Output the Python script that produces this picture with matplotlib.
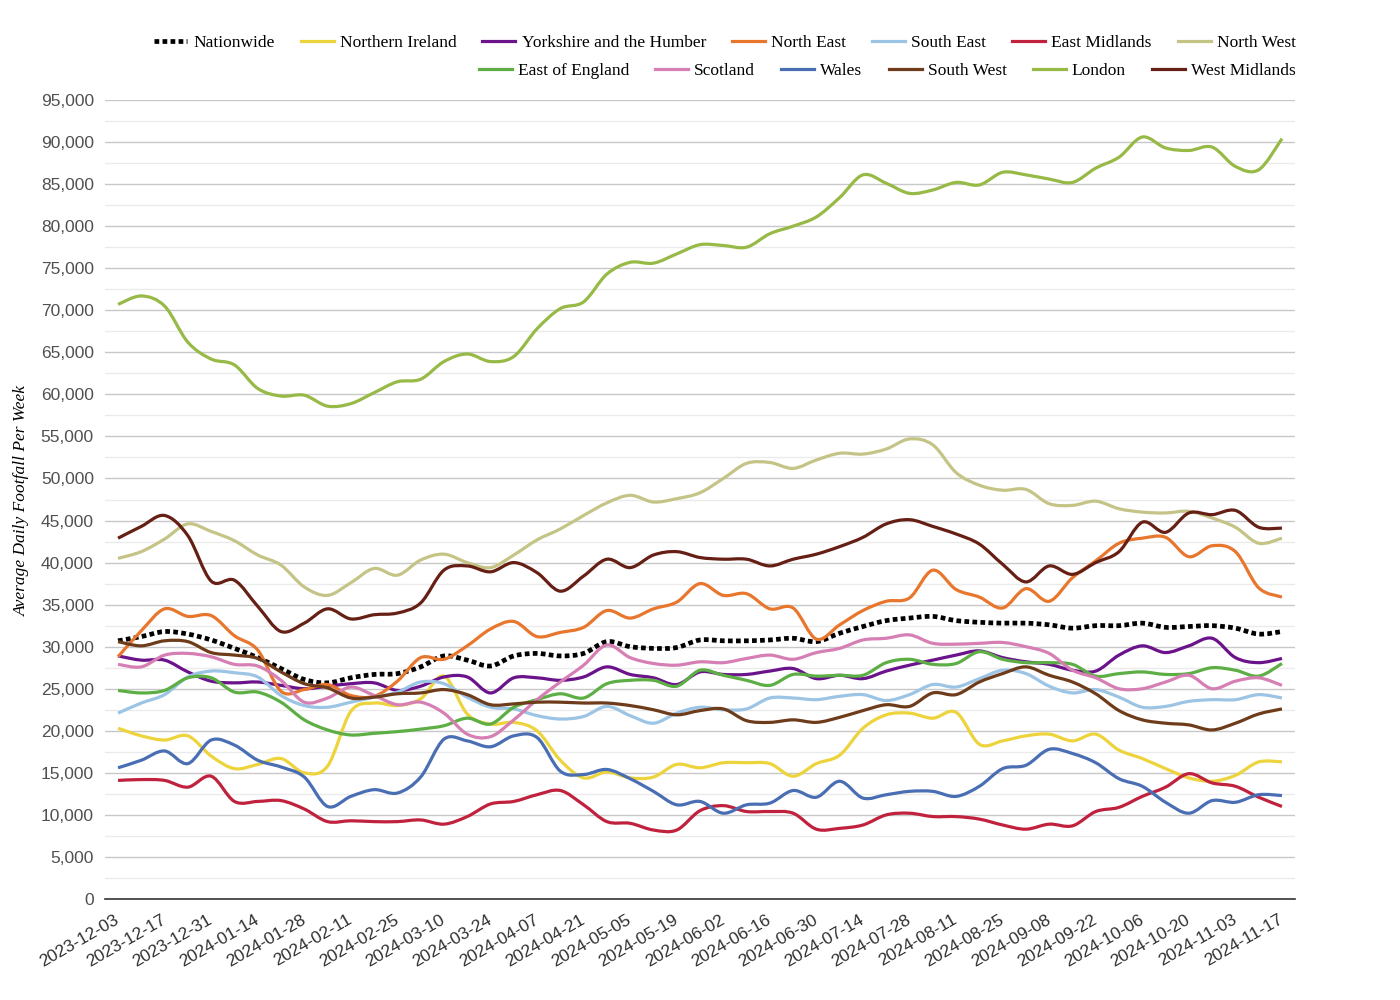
import matplotlib
matplotlib.use('Agg')
import matplotlib.pyplot as plt
import numpy as np
import pandas as pd
from matplotlib.path import Path
from matplotlib.patches import PathPatch
from matplotlib.lines import Line2D
from matplotlib.ticker import MultipleLocator, FuncFormatter

# weekly dates (week commencing)
weeks = pd.date_range('2023-12-03', '2024-11-17', freq='7D').strftime('%Y-%m-%d').tolist()

# average daily footfall per week, in thousands
nationwide = [30.7, 31.2, 31.8, 31.5, 30.8, 29.8, 28.7, 27.4, 26.1, 25.7, 26.3, 26.7, 26.8, 27.6, 28.9, 28.4, 27.7,
              28.9, 29.2, 28.9, 29.2, 30.6, 30.0, 29.8, 29.9, 30.8, 30.7, 30.7, 30.8, 31.0, 30.6, 31.6, 32.4, 33.1,
              33.4, 33.6, 33.1, 32.9, 32.8, 32.8, 32.6, 32.2, 32.5, 32.5, 32.8, 32.3, 32.4, 32.5, 32.2, 31.5, 31.8]
northern_ireland = [20.3, 19.4, 18.9, 19.4, 17.0, 15.5, 16.0, 16.7, 15.0, 15.8, 22.3, 23.3, 23.0, 23.8, 26.5, 22.0,
                    20.8, 21.0, 20.0, 16.5, 14.4, 15.1, 14.4, 14.5, 16.0, 15.6, 16.2, 16.2, 16.1, 14.6, 16.1, 17.1,
                    20.3, 21.9, 22.1, 21.5, 22.2, 18.4, 18.8, 19.4, 19.6, 18.8, 19.6, 17.7, 16.7, 15.5, 14.4, 14.0,
                    14.7, 16.3, 16.3]
yorkshire = [28.9, 28.4, 28.4, 27.0, 25.9, 25.7, 25.8, 25.4, 25.0, 25.3, 25.6, 25.7, 24.8, 25.3, 26.4, 26.4, 24.5,
             26.3, 26.3, 26.0, 26.4, 27.6, 26.7, 26.3, 25.5, 27.0, 26.7, 26.7, 27.1, 27.4, 26.2, 26.6, 26.2, 27.1,
             27.8, 28.4, 29.0, 29.5, 28.7, 28.2, 27.9, 27.2, 27.1, 29.0, 30.1, 29.3, 30.1, 31.0, 28.7, 28.1, 28.6]
north_east = [28.8, 31.9, 34.5, 33.6, 33.7, 31.3, 29.6, 24.7, 24.9, 25.5, 24.2, 24.1, 25.9, 28.7, 28.5, 30.1, 32.1,
              33.0, 31.2, 31.7, 32.3, 34.3, 33.4, 34.5, 35.3, 37.5, 36.1, 36.3, 34.5, 34.6, 30.9, 32.6, 34.3, 35.4,
              35.8, 39.1, 36.8, 35.9, 34.6, 36.9, 35.4, 38.2, 40.2, 42.3, 42.9, 43.0, 40.7, 42.0, 41.3, 37.0, 35.9]
south_east = [22.1, 23.3, 24.3, 26.4, 27.1, 26.9, 26.4, 24.2, 23.0, 22.8, 23.4, 24.0, 24.6, 25.8, 25.6, 24.0, 22.8,
              22.6, 21.8, 21.4, 21.7, 22.9, 21.8, 20.9, 22.1, 22.8, 22.5, 22.6, 23.9, 23.9, 23.7, 24.1, 24.3, 23.6,
              24.3, 25.5, 25.2, 26.2, 27.2, 26.8, 25.3, 24.5, 24.9, 24.0, 22.8, 22.9, 23.5, 23.7, 23.7, 24.3, 23.9]
east_midlands = [14.1, 14.2, 14.1, 13.3, 14.6, 11.6, 11.6, 11.7, 10.7, 9.2, 9.3, 9.2, 9.2, 9.4, 8.9, 9.8, 11.3,
                 11.6, 12.4, 12.9, 11.2, 9.2, 9.0, 8.2, 8.2, 10.5, 11.1, 10.4, 10.4, 10.2, 8.3, 8.4, 8.8, 10.0,
                 10.2, 9.8, 9.8, 9.5, 8.8, 8.3, 8.9, 8.7, 10.4, 10.9, 12.2, 13.3, 14.9, 13.8, 13.4, 12.1, 11.0]
north_west = [40.5, 41.3, 42.8, 44.6, 43.7, 42.6, 40.9, 39.7, 37.1, 36.1, 37.6, 39.3, 38.5, 40.3, 41.0, 40.0, 39.4,
              40.9, 42.7, 44.0, 45.6, 47.1, 48.0, 47.2, 47.6, 48.3, 50.0, 51.8, 51.9, 51.2, 52.2, 53.0, 52.9, 53.5,
              54.7, 54.0, 50.7, 49.2, 48.6, 48.7, 47.0, 46.8, 47.3, 46.4, 46.0, 45.9, 46.1, 45.3, 44.2, 42.3, 42.9]
east_of_england = [24.8, 24.5, 24.8, 26.3, 26.3, 24.6, 24.6, 23.4, 21.3, 20.1, 19.5, 19.7, 19.9, 20.2, 20.6, 21.5,
                   20.8, 22.8, 23.7, 24.4, 23.9, 25.6, 26.0, 26.0, 25.3, 27.2, 26.6, 26.0, 25.4, 26.7, 26.5, 26.6,
                   26.6, 28.1, 28.5, 27.9, 28.0, 29.4, 28.5, 28.1, 28.1, 27.9, 26.5, 26.8, 27.0, 26.7, 26.8, 27.5,
                   27.2, 26.5, 28.0]
scotland = [27.9, 27.6, 29.0, 29.2, 28.8, 27.9, 27.7, 26.0, 23.4, 23.9, 25.2, 24.2, 23.1, 23.4, 22.1, 19.6, 19.3,
            21.3, 23.7, 25.8, 27.8, 30.2, 28.7, 28.0, 27.8, 28.2, 28.1, 28.6, 29.0, 28.5, 29.3, 29.8, 30.8, 31.0,
            31.4, 30.4, 30.3, 30.4, 30.5, 30.0, 29.2, 27.2, 26.3, 25.0, 25.0, 25.8, 26.6, 25.0, 25.9, 26.3, 25.4]
wales = [15.6, 16.5, 17.6, 16.1, 18.9, 18.3, 16.5, 15.7, 14.5, 11.0, 12.2, 13.0, 12.6, 14.5, 19.0, 18.8, 18.1, 19.4,
         19.2, 15.2, 14.8, 15.4, 14.3, 12.8, 11.2, 11.6, 10.2, 11.2, 11.4, 12.9, 12.1, 14.0, 12.0, 12.4, 12.8, 12.8,
         12.2, 13.4, 15.5, 15.9, 17.8, 17.3, 16.2, 14.3, 13.4, 11.5, 10.2, 11.7, 11.5, 12.4, 12.3]
south_west = [30.6, 30.1, 30.7, 30.6, 29.3, 29.0, 28.6, 27.0, 25.6, 25.1, 23.9, 24.0, 24.4, 24.5, 24.9, 24.3, 23.1,
              23.2, 23.4, 23.4, 23.3, 23.3, 23.0, 22.5, 21.9, 22.4, 22.6, 21.2, 21.0, 21.3, 21.0, 21.6, 22.4, 23.1,
              22.9, 24.5, 24.3, 25.8, 26.8, 27.6, 26.6, 25.8, 24.4, 22.4, 21.3, 20.9, 20.7, 20.1, 20.9, 22.0, 22.6]
london = [70.7, 71.7, 70.5, 66.2, 64.2, 63.5, 60.7, 59.8, 59.9, 58.6, 58.9, 60.2, 61.5, 61.8, 63.9, 64.8, 63.9, 64.5,
          67.8, 70.2, 71.0, 74.3, 75.7, 75.6, 76.7, 77.8, 77.7, 77.5, 79.1, 80.0, 81.1, 83.4, 86.1, 85.1, 83.9, 84.3,
          85.2, 84.9, 86.4, 86.1, 85.6, 85.2, 86.9, 88.2, 90.6, 89.3, 89.0, 89.4, 87.1, 86.7, 90.4]
west_midlands = [42.9, 44.3, 45.6, 43.2, 37.8, 37.9, 34.8, 31.8, 32.8, 34.5, 33.3, 33.8, 34.0, 35.2, 39.1, 39.6,
                 38.9, 40.0, 38.8, 36.6, 38.4, 40.4, 39.4, 40.9, 41.3, 40.6, 40.4, 40.4, 39.6, 40.4, 41.0, 41.9,
                 43.0, 44.6, 45.1, 44.3, 43.4, 42.2, 39.8, 37.7, 39.6, 38.6, 40.0, 41.3, 44.8, 43.6, 45.9, 45.7,
                 46.2, 44.2, 44.1]

regions = ['Nationwide', 'Northern Ireland', 'Yorkshire and the Humber', 'North East', 'South East',
           'East Midlands', 'North West', 'East of England', 'Scotland', 'Wales', 'South West', 'London',
           'West Midlands']
series = [nationwide, northern_ireland, yorkshire, north_east, south_east, east_midlands, north_west,
          east_of_england, scotland, wales, south_west, london, west_midlands]
colors = ['#000000', '#EDD33C', '#6A138B', '#E8762D', '#9CC4E4', '#C0213D', '#C5C487', '#5DAE45',
          '#D67FB4', '#4A6EB3', '#6E3C1A', '#97B946', '#661F14']


def smooth_path(x, y):
    # Catmull-Rom style smoothing drawn as cubic bezier segments
    pts = np.column_stack([x, y])
    p = np.vstack([pts[0], pts, pts[-1]])
    verts = [pts[0]]
    codes = [Path.MOVETO]
    for i in range(1, len(p) - 2):
        c1 = p[i] + (p[i + 1] - p[i - 1]) / 6
        c2 = p[i + 1] - (p[i + 2] - p[i]) / 6
        verts += [c1, c2, p[i + 1]]
        codes += [Path.CURVE4] * 3
    return Path(verts, codes)


fig = plt.figure(figsize=(14, 10), dpi=100)
ax = fig.add_axes([0.075, 0.101, 0.85, 0.799])

x = np.arange(len(weeks))
handles = []
for name, vals, col in zip(regions, series, colors):
    y = np.array(vals) * 1000
    if name == 'Nationwide':
        ls, lw = (0, (1, 0.7)), 3.4
    else:
        ls, lw = '-', 2.3
    ax.add_patch(PathPatch(smooth_path(x, y), fill=False, edgecolor=col, lw=lw,
                           linestyle=ls, capstyle='butt', joinstyle='round'))
    handles.append(Line2D([], [], color=col, lw=lw, linestyle=ls, label=name))

ax.set_xlim(-0.56, len(weeks) - 1 + 0.56)
ax.set_ylim(0, 95000)

ax.yaxis.set_major_locator(MultipleLocator(5000))
ax.yaxis.set_minor_locator(MultipleLocator(2500))
ax.yaxis.set_major_formatter(FuncFormatter(lambda v, p: f'{int(v):,}'))
ax.grid(axis='y', which='major', color='#C8C8C8', lw=1)
ax.grid(axis='y', which='minor', color='#EBEBEB', lw=1)
ax.set_axisbelow(True)
for s in ['top', 'right', 'left']:
    ax.spines[s].set_visible(False)
ax.spines['bottom'].set_color('#333333')
ax.spines['bottom'].set_linewidth(1.2)
ax.tick_params(axis='both', which='both', length=0)
ax.tick_params(axis='y', labelsize=12.5, labelcolor='#505050', pad=8)

ax.set_xticks(x[::2])
ax.set_xticklabels(weeks[::2], rotation=30, ha='right', va='center', rotation_mode='anchor',
                   fontsize=12.5, color='#303030')
ax.tick_params(axis='x', pad=14)
for lab in ax.get_xticklabels() + ax.get_yticklabels():
    lab.set_fontfamily('Liberation Sans')

fig.text(0.016, 0.5, 'Average Daily Footfall Per Week', rotation=90, ha='center', va='center',
         fontsize=12.5, fontstyle='italic', fontfamily='Liberation Serif')

leg_kw = dict(frameon=False, prop={'family': 'Liberation Serif', 'size': 12.5}, handlelength=1.9,
              handletextpad=0.35, columnspacing=1.5, borderpad=0, borderaxespad=0)
fig.legend(handles=handles[:7], ncol=7, loc='center right', bbox_to_anchor=(0.9255, 0.9575), **leg_kw)
fig.legend(handles=handles[7:], ncol=6, loc='center right', bbox_to_anchor=(0.9255, 0.9295), **leg_kw)

fig.savefig('out.png', dpi=100)
